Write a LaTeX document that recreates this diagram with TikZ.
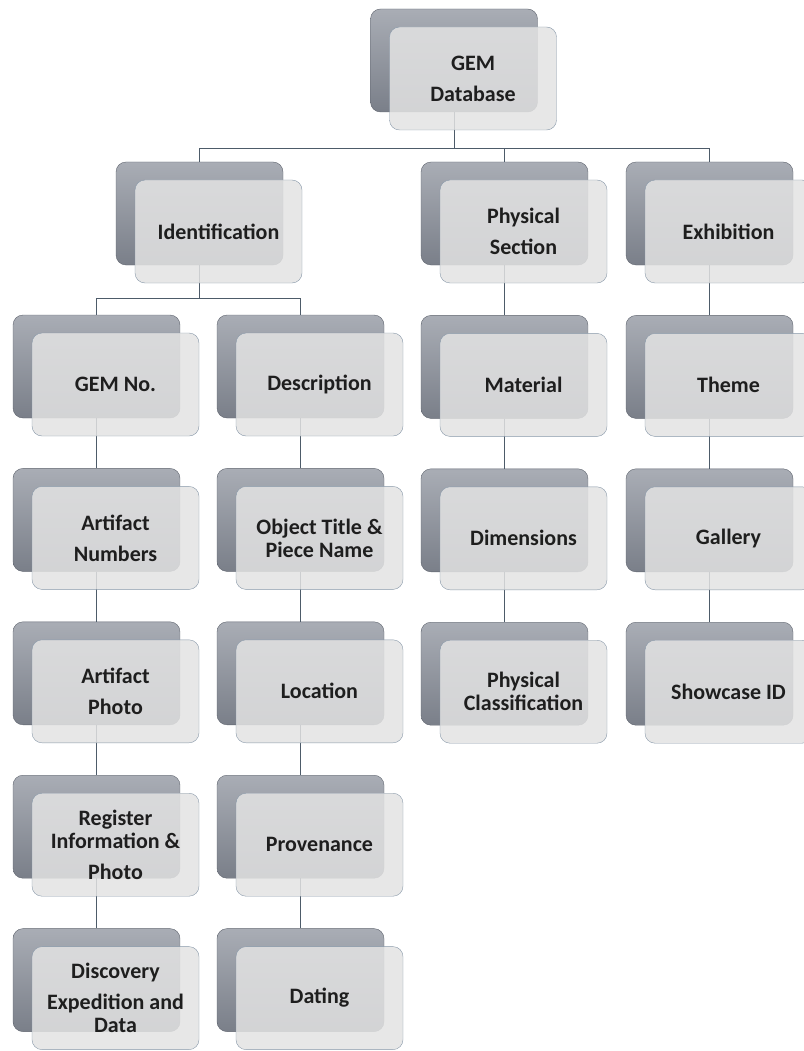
\documentclass[tikz,border=0pt]{standalone}
\usepackage{fontspec}
\setmainfont{Carlito}
\usetikzlibrary{positioning}

\definecolor{backtop}{HTML}{A9ADB5}
\definecolor{backbot}{HTML}{7A7F89}
\definecolor{backline}{HTML}{5F646E}
\definecolor{frontfill}{HTML}{E3E3E3}
\definecolor{frontline}{HTML}{8797A8}
\definecolor{wirecol}{HTML}{4D5B69}
\definecolor{inkcol}{HTML}{1E1E1E}

\begin{document}
\begin{tikzpicture}[x=1pt, y=-1pt, node distance=50pt and 37pt,
    back/.style={draw=backline, rounded corners=10pt, top color=backtop, bottom color=backbot, minimum width=167pt, minimum height=103pt, inner sep=0pt},
    front/.style={draw=frontline, rounded corners=10pt, fill=frontfill, fill opacity=0.85, text opacity=1, text=inkcol, minimum width=167pt, minimum height=103pt, inner sep=0pt, align=center, font=\fontsize{22}{31}\selectfont\bfseries, xshift=19pt, yshift=-18pt},
    wire/.style={draw=wirecol, line width=1pt}]
    \useasboundingbox (0,0) rectangle (803,1051);

    % back plates
    \node (GemBack) [back] at (454,60.5) {};
    \node (IdentBack) [back] at (199.5,213.5) {};
    \node (PhysBack) [back] at (504.5,213.5) {};
    \node (ExhibBack) [back] at (709.5,213.5) {};

    \node (GemNoBack) [back] at (96.5,366.5) {};
    \node (NumbersBack) [back, below=of GemNoBack] {};
    \node (PhotoBack) [back, below=of NumbersBack] {};
    \node (RegisterBack) [back, below=of PhotoBack] {};
    \node (DiscoveryBack) [back, below=of RegisterBack] {};

    \node (DescBack) [back] at (300.5,366.5) {};
    \node (TitleBack) [back, below=of DescBack] {};
    \node (LocationBack) [back, below=of TitleBack] {};
    \node (ProvenanceBack) [back, below=of LocationBack] {};
    \node (DatingBack) [back, below=of ProvenanceBack] {};

    \node (MaterialBack) [back, below=of PhysBack] {};
    \node (DimBack) [back, below=of MaterialBack] {};
    \node (ClassBack) [back, below=of DimBack] {};

    \node (ThemeBack) [back, below=of ExhibBack] {};
    \node (GalleryBack) [back, below=of ThemeBack] {};
    \node (ShowcaseBack) [back, below=of GalleryBack] {};

    % connectors
    \draw[wire] (GemBack.south) -- ++(0,36) -| (IdentBack.north);
    \draw[wire] (GemBack.south) -- ++(0,36) -| (PhysBack.north);
    \draw[wire] (GemBack.south) -- ++(0,36) -| (ExhibBack.north);
    \draw[wire] (IdentBack.south) -- ++(0,33) -| (GemNoBack.north);
    \draw[wire] (IdentBack.south) -- ++(0,33) -| (DescBack.north);

    \draw[wire] (GemNoBack.south) -- (NumbersBack.north);
    \draw[wire] (NumbersBack.south) -- (PhotoBack.north);
    \draw[wire] (PhotoBack.south) -- (RegisterBack.north);
    \draw[wire] (RegisterBack.south) -- (DiscoveryBack.north);

    \draw[wire] (DescBack.south) -- (TitleBack.north);
    \draw[wire] (TitleBack.south) -- (LocationBack.north);
    \draw[wire] (LocationBack.south) -- (ProvenanceBack.north);
    \draw[wire] (ProvenanceBack.south) -- (DatingBack.north);

    \draw[wire] (PhysBack.south) -- (MaterialBack.north);
    \draw[wire] (MaterialBack.south) -- (DimBack.north);
    \draw[wire] (DimBack.south) -- (ClassBack.north);

    \draw[wire] (ExhibBack.south) -- (ThemeBack.north);
    \draw[wire] (ThemeBack.south) -- (GalleryBack.north);
    \draw[wire] (GalleryBack.south) -- (ShowcaseBack.north);

    % front cards
    \node (Gem) [front] at (GemBack) {GEM\\Database};
    \node (Ident) [front] at (IdentBack) {Identification};
    \node (Phys) [front] at (PhysBack) {Physical\\Section};
    \node (Exhib) [front] at (ExhibBack) {Exhibition};

    \node (GemNo) [front] at (GemNoBack) {GEM No.};
    \node (Numbers) [front] at (NumbersBack) {Artifact\\Numbers};
    \node (Photo) [front] at (PhotoBack) {Artifact\\Photo};
    \node (Register) [front] at (RegisterBack) {Register\\[-8pt]Information \&\\Photo};
    \node (Discovery) [front] at (DiscoveryBack) {Discovery\\Expedition and\\[-8pt]Data};

    \node (Desc) [front] at (DescBack) {Description};
    \node (Title) [front] at (TitleBack) {Object Title \&\\[-8pt]Piece Name};
    \node (Location) [front] at (LocationBack) {Location};
    \node (Provenance) [front] at (ProvenanceBack) {Provenance};
    \node (Dating) [front] at (DatingBack) {Dating};

    \node (Material) [front] at (MaterialBack) {Material};
    \node (Dim) [front] at (DimBack) {Dimensions};
    \node (Class) [front] at (ClassBack) {Physical\\[-8pt]Classification};

    \node (Theme) [front] at (ThemeBack) {Theme};
    \node (Gallery) [front] at (GalleryBack) {Gallery};
    \node (Showcase) [front] at (ShowcaseBack) {Showcase ID};
\end{tikzpicture}
\end{document}
